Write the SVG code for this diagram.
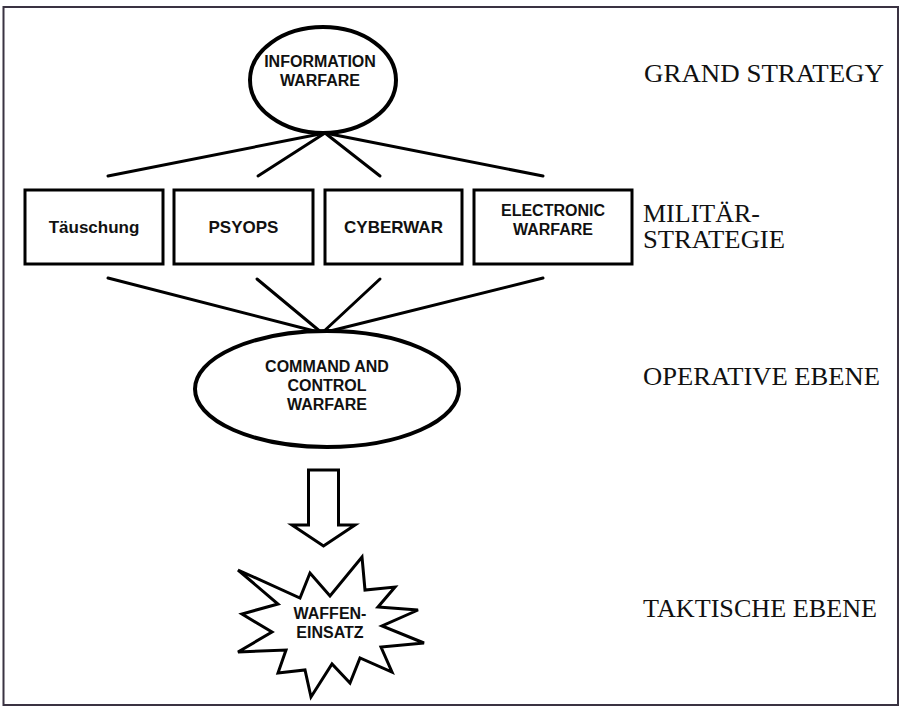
<svg xmlns="http://www.w3.org/2000/svg" width="901" height="708" viewBox="0 0 901 708">
<style>
.shape{fill:#fff;stroke:#000;stroke-width:3}
.ell{fill:#fff;stroke:#000;stroke-width:4}
.conn line{stroke:#000;stroke-width:3;stroke-linecap:round}
.nt{font-family:"Liberation Sans",Arial,sans-serif;font-weight:bold;font-size:16px;text-anchor:middle;fill:#111}
.bt{font-family:"Liberation Sans",Arial,sans-serif;font-weight:bold;font-size:17px;text-anchor:middle;fill:#111}
.lvl{font-family:"Liberation Serif","Times New Roman",serif;font-size:25px;fill:#111}
</style>
<rect x="0" y="0" width="901" height="708" fill="#fff"/>
<rect x="3.5" y="7" width="894.5" height="698" fill="#fff" stroke="#3a3342" stroke-width="2"/>

<g id="connectors" class="conn">
<line x1="108" y1="176" x2="325" y2="133"/>
<line x1="258" y1="176" x2="325" y2="133"/>
<line x1="380" y1="176" x2="325" y2="133"/>
<line x1="543" y1="176" x2="325" y2="133"/>
<line x1="108" y1="278" x2="322" y2="333"/>
<line x1="257" y1="279" x2="322" y2="333"/>
<line x1="380" y1="279" x2="322" y2="333"/>
<line x1="543" y1="278" x2="322" y2="333"/>
</g>

<g id="information-warfare">
<ellipse class="ell" cx="323" cy="80" rx="73" ry="53"/>
<text class="nt" x="320" y="67">INFORMATION</text>
<text class="nt" x="320" y="86">WARFARE</text>
</g>

<g id="taeuschung">
<rect class="shape" x="25" y="190" width="138" height="74"/>
<text class="bt" x="94" y="233">Täuschung</text>
</g>
<g id="psyops">
<rect class="shape" x="174" y="190" width="139" height="74"/>
<text class="bt" x="243.5" y="233">PSYOPS</text>
</g>
<g id="cyberwar">
<rect class="shape" x="325" y="190" width="137" height="74"/>
<text class="bt" x="393.5" y="233">CYBERWAR</text>
</g>
<g id="electronic-warfare">
<rect class="shape" x="474" y="190" width="158" height="74"/>
<text class="nt" x="553" y="216">ELECTRONIC</text>
<text class="nt" x="553" y="235">WARFARE</text>
</g>

<g id="c2w">
<ellipse class="ell" cx="327" cy="389" rx="132" ry="58"/>
<text class="nt" x="327" y="372">COMMAND AND</text>
<text class="nt" x="327" y="391">CONTROL</text>
<text class="nt" x="327" y="410">WARFARE</text>
</g>

<g id="arrow">
<path class="shape" d="M308.5,470 H338.5 V525 H355 L323.5,546 L292,525 H308.5 Z" stroke-linejoin="miter"/>
</g>

<g id="waffeneinsatz">
<path class="shape" stroke-linejoin="miter" d="M238,570 L300,598 L310,573 L330,596 L362,557 L365,590 L395,587 L378,607 L418,610 L382,626 L424,643 L381,647 L392,672 L360,658 L350,683 L332,664 L311,697 L305,670 L278,673 L286,650 L238,652 L272,632 L242,614 L278,604 Z"/>
<text class="nt" x="330" y="619">WAFFEN-</text>
<text class="nt" x="330" y="638">EINSATZ</text>
</g>

<g id="levels">
<text class="lvl" x="644" y="82" textLength="240" lengthAdjust="spacingAndGlyphs">GRAND STRATEGY</text>
<text class="lvl" x="643" y="222" textLength="117" lengthAdjust="spacingAndGlyphs">MILITÄR-</text>
<text class="lvl" x="643" y="248" textLength="142" lengthAdjust="spacingAndGlyphs">STRATEGIE</text>
<text class="lvl" x="643" y="385" textLength="237" lengthAdjust="spacingAndGlyphs">OPERATIVE EBENE</text>
<text class="lvl" x="643" y="617" textLength="234" lengthAdjust="spacingAndGlyphs">TAKTISCHE EBENE</text>
</g>
</svg>
